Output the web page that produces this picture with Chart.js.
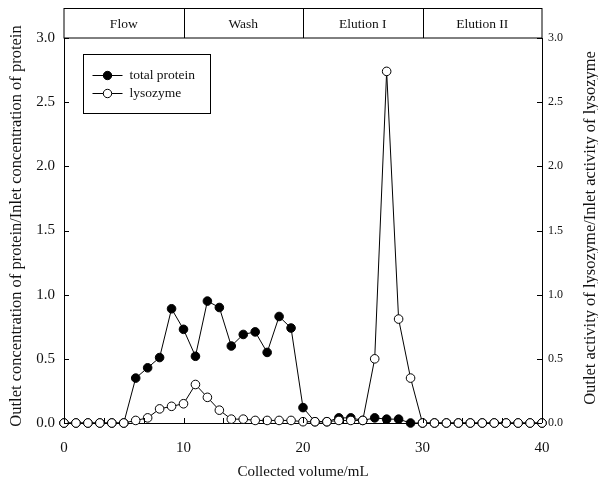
<!DOCTYPE html>
<html>
<head>
<meta charset="utf-8">
<script src="https://cdn.jsdelivr.net/npm/chart.js@4/dist/chart.umd.min.js"></script>
<style>
  html, body { margin: 0; padding: 0; background: #fff; }
  #wrap { width: 598px; height: 481px; }
</style>
</head>
<body>
<div id="wrap"><canvas id="chart" width="598" height="481"></canvas></div>
<script>
// DATA
const volume = [0,1,2,3,4,5,6,7,8,9,10,11,12,13,14,15,16,17,18,19,20,
                21,22,23,24,25,26,27,28,29,30,31,32,33,34,35,36,37,38,39,40];
const totalProtein = [0,0,0,0,0,0,0.35,0.43,0.51,0.89,0.73,0.52,0.95,0.90,0.60,0.69,0.71,0.55,0.83,0.74,0.12,
                      0.01,0.01,0.04,0.04,0.02,0.04,0.03,0.03,0.0,0,0,0,0,0,0,0,0,0,0,0];
const lysozyme = [0,0,0,0,0,0,0.02,0.04,0.11,0.13,0.15,0.30,0.20,0.10,0.03,0.03,0.02,0.02,0.02,0.02,0.01,
                  0.01,0.01,0.02,0.02,0.02,0.50,2.74,0.81,0.35,0,0,0,0,0,0,0,0,0,0,0];
const phases = ["Flow","Wash","Elution I","Elution II"];
const phaseBounds = [0,10,20,30,40];
const xMajor = [0,10,20,30,40];
const yTicks = [0,0.5,1.0,1.5,2.0,2.5,3.0];

const FONT = "'Liberation Serif', 'Times New Roman', serif";
const toXY = arr => arr.map((v,i) => ({x: volume[i], y: v}));

// header band, inward ticks, axis titles, legend
const decor = {
  id: "decor",
  afterDraw(chart) {
    const ctx = chart.ctx;
    const x = chart.scales.x, y = chart.scales.y, y2 = chart.scales.y2;
    const a = chart.chartArea;
    ctx.save();
    ctx.strokeStyle = "#000";
    ctx.lineWidth = 1;

    // header band
    const hTop = 8.5, hBot = a.top;
    ctx.strokeRect(a.left, hTop, a.right - a.left, hBot - hTop);
    ctx.font = "13.5px " + FONT;
    ctx.fillStyle = "#111";
    ctx.textAlign = "center";
    ctx.textBaseline = "middle";
    phases.forEach((p, i) => {
      const l = x.getPixelForValue(phaseBounds[i]);
      const r = x.getPixelForValue(phaseBounds[i+1]);
      if (i > 0) {
        ctx.beginPath();
        ctx.moveTo(Math.round(l) + 0.5, hTop);
        ctx.lineTo(Math.round(l) + 0.5, hBot);
        ctx.stroke();
      }
      ctx.fillText(p, (l + r) / 2, (hTop + hBot) / 2 + 1);
    });

    // inward ticks
    ctx.beginPath();
    for (let i = 0; i <= 12; i++) {
      const px = Math.round(x.getPixelForValue(i * 10 / 3)) + 0.5;
      ctx.moveTo(px, a.bottom);
      ctx.lineTo(px, a.bottom - 5);
    }
    yTicks.forEach(v => {
      const py = Math.round(y.getPixelForValue(v)) + 0.5;
      ctx.moveTo(a.left, py);
      ctx.lineTo(a.left + 5, py);
      const py2 = Math.round(y2.getPixelForValue(v)) + 0.5;
      ctx.moveTo(a.right, py2);
      ctx.lineTo(a.right - 5, py2);
    });
    ctx.stroke();

    // axis titles (both read bottom to top)
    ctx.font = "16.5px " + FONT;
    ctx.fillStyle = "#111";
    ctx.textAlign = "center";
    ctx.textBaseline = "middle";
    [[17, 226, "Outlet concentration of protein/Inlet concentration of protein"],
     [591, 228, "Outlet activity of lysozyme/Inlet activity of lysozyme"]].forEach(t => {
      ctx.save();
      ctx.translate(t[0], t[1]);
      ctx.rotate(-Math.PI / 2);
      ctx.fillText(t[2], 0, 0);
      ctx.restore();
    });

    // legend
    const bx = 83.5, by = 54.5, bw = 127, bh = 59;
    ctx.strokeRect(bx, by, bw, bh);
    ctx.font = "13.5px " + FONT;
    ctx.textAlign = "left";
    ctx.textBaseline = "middle";
    chart.data.datasets.forEach((ds, i) => {
      const ly = by + 21 + i * 18;
      ctx.beginPath();
      ctx.moveTo(bx + 9, ly);
      ctx.lineTo(bx + 39, ly);
      ctx.stroke();
      ctx.beginPath();
      ctx.arc(bx + 24, ly, 4.2, 0, Math.PI * 2);
      ctx.fillStyle = ds.pointBackgroundColor;
      ctx.fill();
      ctx.stroke();
      ctx.fillStyle = "#111";
      ctx.fillText(ds.label, bx + 46, ly);
    });
    ctx.restore();
  }
};

new Chart(document.getElementById("chart"), {
  type: "line",
  data: {
    datasets: [
      {
        label: "total protein",
        data: toXY(totalProtein),
        yAxisID: "y",
        borderColor: "#000",
        borderWidth: 1,
        pointBackgroundColor: "#000",
        pointBorderColor: "#000",
        pointRadius: 4.3,
        pointBorderWidth: 1,
        tension: 0,
        clip: false,
        order: 2
      },
      {
        label: "lysozyme",
        data: toXY(lysozyme),
        yAxisID: "y2",
        borderColor: "#000",
        borderWidth: 1,
        pointBackgroundColor: "#fff",
        pointBorderColor: "#000",
        pointRadius: 4.3,
        pointBorderWidth: 1,
        tension: 0,
        clip: false,
        order: 1
      }
    ]
  },
  options: {
    responsive: false,
    animation: false,
    layout: { padding: { top: 38 } },
    plugins: {
      legend: { display: false },
      tooltip: { enabled: false }
    },
    scales: {
      x: {
        type: "linear",
        min: 0, max: 40,
        afterBuildTicks: s => { s.ticks = xMajor.map(v => ({ value: v })); },
        afterFit: s => { s.height = 58; },
        grid: { display: false, drawTicks: false },
        border: { display: true, color: "#000", width: 1 },
        ticks: { color: "#111", font: { family: FONT, size: 15 }, padding: 16, maxRotation: 0 },
        title: { display: true, text: "Collected volume/mL", color: "#111", font: { family: FONT, size: 15 }, padding: { top: 3, bottom: 0 } }
      },
      y: {
        position: "left",
        min: 0, max: 3,
        afterBuildTicks: s => { s.ticks = yTicks.map(v => ({ value: v })); },
        afterFit: s => { s.width = 64; },
        grid: { display: false, drawTicks: false },
        border: { display: true, color: "#000", width: 1 },
        ticks: { color: "#111", font: { family: FONT, size: 15 }, padding: 9, callback: v => v.toFixed(1) }
      },
      y2: {
        position: "right",
        min: 0, max: 3,
        afterBuildTicks: s => { s.ticks = yTicks.map(v => ({ value: v })); },
        afterFit: s => { s.width = 56; },
        grid: { display: false, drawTicks: false },
        border: { display: true, color: "#000", width: 1 },
        ticks: { color: "#111", font: { family: FONT, size: 12 }, padding: 6, callback: v => v.toFixed(1) }
      }
    }
  },
  plugins: [decor]
});
</script>
</body>
</html>
